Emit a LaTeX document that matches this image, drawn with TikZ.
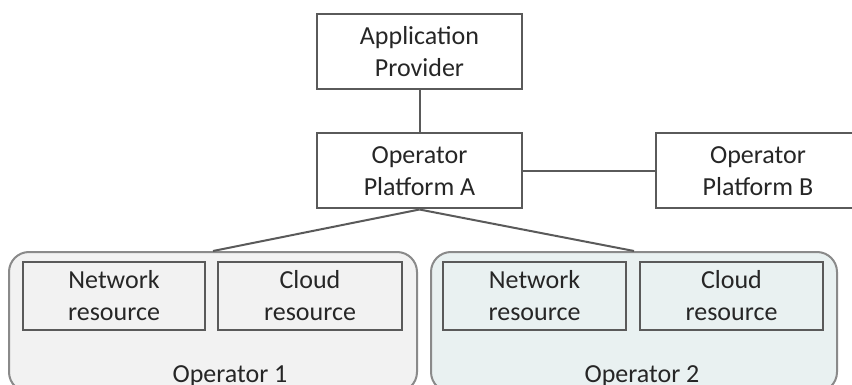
\documentclass[tikz,border=0pt]{standalone}
\usepackage{fontspec}
\setmainfont{Carlito}
\definecolor{boxline}{HTML}{5A5A5A}
\definecolor{contline}{HTML}{8A8A8A}
\definecolor{txt}{HTML}{262626}
\definecolor{fillone}{HTML}{F2F2F2}
\definecolor{filltwo}{HTML}{E9F1F1}
\tikzset{
  plainbox/.style={draw=boxline, line width=2pt, fill=white, minimum width=#1, minimum height=75pt, inner sep=0pt, align=center, text=txt, font=\fontsize{26pt}{32pt}\selectfont},
  resbox/.style={draw=boxline, line width=2pt, minimum width=#1, minimum height=68pt, inner sep=0pt, align=center, text=txt, font=\fontsize{26pt}{32pt}\selectfont},
  container/.style={draw=contline, line width=2pt, rounded corners=20pt, minimum width=#1, minimum height=140pt, inner sep=0pt},
  link/.style={draw=boxline, line width=2pt},
  lbl/.style={text=txt, font=\fontsize{26pt}{32pt}\selectfont, inner sep=0pt, anchor=base}
}
\begin{document}
\begin{tikzpicture}[x=1pt, y=-1pt]
\useasboundingbox (0,0) rectangle (852,385);
\clip (0,0) rectangle (852,385);
\node[container=408pt, fill=fillone] (op1) at (213,322) {};
\node[container=406pt, fill=filltwo] (op2) at (634,322) {};
\node[resbox=182pt, fill=fillone] (net1) at (114,296) {Network\\resource};
\node[resbox=184pt, fill=fillone] (cld1) at (310,296) {Cloud\\resource};
\node[resbox=183pt, fill=filltwo] (net2) at (534.5,296) {Network\\resource};
\node[resbox=183pt, fill=filltwo] (cld2) at (731.5,296) {Cloud\\resource};
\node[lbl] (l1) at (230,382) {Operator 1};
\node[lbl] (l2) at (642,382) {Operator 2};
\node[plainbox=205pt] (app) at (419.5,51.5) {Application\\Provider};
\node[plainbox=205pt] (pa) at (419.5,171) {Operator\\Platform A};
\node[plainbox=204pt] (pb) at (758,171) {Operator\\Platform B};
\draw[link] (app) -- (pa);
\draw[link] (pa) -- (pb);
\draw[link] (pa.south) -- (op1.north);
\draw[link] (pa.south) -- (op2.north);
\end{tikzpicture}
\end{document}
